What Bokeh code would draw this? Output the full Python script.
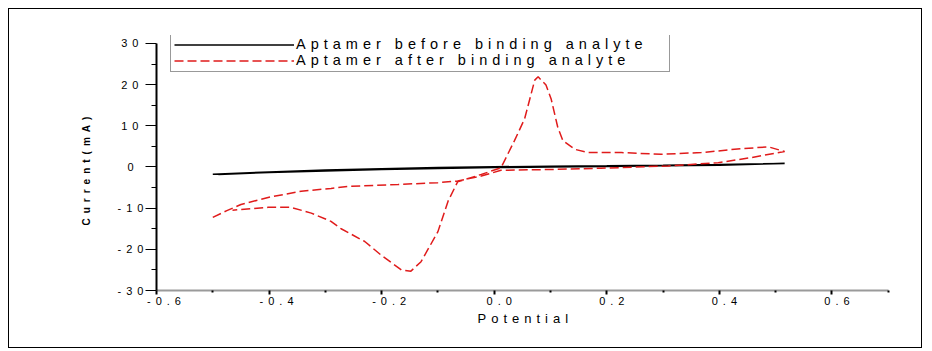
from bokeh.plotting import figure
from bokeh.models import FixedTicker, Legend, LegendItem, Range1d, PrintfTickFormatter, Title
from bokeh.embed import file_html
from bokeh.resources import INLINE

# ---- data ----
x_ticks = [-0.6, -0.4, -0.2, 0.0, 0.2, 0.4, 0.6]
x_minor_ticks = [-0.5, -0.3, -0.1, 0.1, 0.3, 0.5, 0.7]
y_ticks = [-30, -20, -10, 0, 10, 20, 30]
y_minor_ticks = [-25, -15, -5, 5, 15, 25]

before_potential = [-0.5, -0.4, -0.3, -0.2, -0.1, 0.0, 0.1, 0.2, 0.3, 0.4, 0.516,
                    0.4, 0.3, 0.2, 0.1, 0.0, -0.1, -0.2, -0.3, -0.4, -0.49]
before_current = [-1.75, -1.2, -0.75, -0.4, -0.15, 0.05, 0.2, 0.32, 0.45, 0.6, 0.85,
                  0.45, 0.28, 0.12, 0.0, -0.15, -0.35, -0.6, -0.95, -1.35, -1.8]

after_potential = [-0.5, -0.475, -0.45, -0.40, -0.343, -0.29, -0.257, -0.171, -0.1, -0.065,
                   -0.023, 0.012, 0.1, 0.19, 0.309, 0.398, 0.457, 0.516,
                   0.487, 0.427, 0.368, 0.297, 0.226, 0.167, 0.143, 0.122, 0.113, 0.101,
                   0.092, 0.078, 0.072, 0.054, 0.036, 0.012, -0.023, -0.065, -0.082, -0.1,
                   -0.13, -0.148, -0.165, -0.2, -0.23, -0.272, -0.29, -0.325, -0.361,
                   -0.402, -0.465]
after_current = [-12.25, -10.6, -9.1, -7.35, -5.9, -5.2, -4.7, -4.25, -3.8, -3.4,
                 -2.2, -0.8, -0.6, -0.3, 0.25, 1.05, 2.3, 3.75,
                 4.9, 4.3, 3.5, 3.1, 3.5, 3.5, 4.3, 6.4, 9.6, 16.6,
                 19.9, 21.9, 21.1, 11.7, 6.4, -0.2, -1.8, -3.6, -8.3, -15.7,
                 -23.0, -25.3, -25.0, -21.5, -18.1, -15.0, -13.2, -11.2, -9.8,
                 -9.8, -10.5]

labels = ["Aptamer before binding analyte", "Aptamer after binding analyte"]
x_label = "Potential"
y_label = "Current(mA)"

FONT = "Liberation Sans"

p = figure(width=914, height=340, output_backend="svg", toolbar_location=None,
           x_range=Range1d(-0.6, 0.7005), y_range=Range1d(-30, 31.94),
           min_border_left=147, min_border_right=35, min_border_top=26, min_border_bottom=59)
p.margin = (8, 0, 0, 8)
p.styles = {"border": "1px solid black", "letter-spacing": "5px"}
p.xgrid.visible = False
p.ygrid.visible = False
p.outline_line_color = None
p.background_fill_color = "white"
p.border_fill_color = "white"

r1 = p.line(before_potential, before_current, line_color="black", line_width=1.5)
r2 = p.line(after_potential, after_current, line_color="#e01b1b", line_width=1.5,
            line_dash="9 4")

xa = p.xaxis[0]
xa.ticker = FixedTicker(ticks=x_ticks, minor_ticks=x_minor_ticks)
xa.formatter = PrintfTickFormatter(format="%.1f")
xa.axis_line_color = "#9a9a9a"
xa.axis_line_width = 2
xa.major_tick_in = 0
xa.major_tick_out = 4
xa.minor_tick_in = 0
xa.minor_tick_out = 2
xa.major_tick_line_width = 2
xa.minor_tick_line_width = 2
xa.major_tick_line_color = "black"
xa.minor_tick_line_color = "black"
xa.major_label_text_font = FONT
xa.major_label_text_font_size = "11px"
xa.major_label_text_color = "black"
xa.major_label_standoff = 2

ya = p.yaxis[0]
ya.ticker = FixedTicker(ticks=y_ticks, minor_ticks=y_minor_ticks)
ya.formatter = PrintfTickFormatter(format="%d")
ya.bounds = (-30, 30)
ya.axis_line_color = "black"
ya.axis_line_width = 2
ya.major_tick_in = 0
ya.major_tick_out = 11
ya.minor_tick_in = 0
ya.minor_tick_out = 5
ya.major_tick_line_color = "black"
ya.minor_tick_line_color = "black"
ya.major_label_text_font = FONT
ya.major_label_text_font_size = "11px"
ya.major_label_text_color = "black"
ya.major_label_standoff = 12

# axis titles (as Title so that their start can be placed)
xt = Title(text=x_label, align="left", offset=321, standoff=2,
           text_font=FONT, text_font_size="13px", text_font_style="normal",
           text_color="black")
p.add_layout(xt, "below")
yt = Title(text=y_label, align="left", offset=65, standoff=45,
           text_font=FONT, text_font_size="10px", text_font_style="bold",
           text_color="black")
p.add_layout(yt, "left")

legend = Legend(items=[LegendItem(label=labels[0], renderers=[r1]),
                       LegendItem(label=labels[1], renderers=[r2])],
                location=(14, 218), orientation="vertical",
                glyph_width=120, glyph_height=15, label_height=15, label_width=370,
                label_standoff=2, padding=3, spacing=0, margin=0,
                border_line_color="#333333", border_line_width=1,
                background_fill_color="white", background_fill_alpha=1.0,
                label_text_font=FONT, label_text_font_size="14.5px",
                label_text_color="black")
p.add_layout(legend)

open("out.html", "w").write(file_html(p, INLINE))
